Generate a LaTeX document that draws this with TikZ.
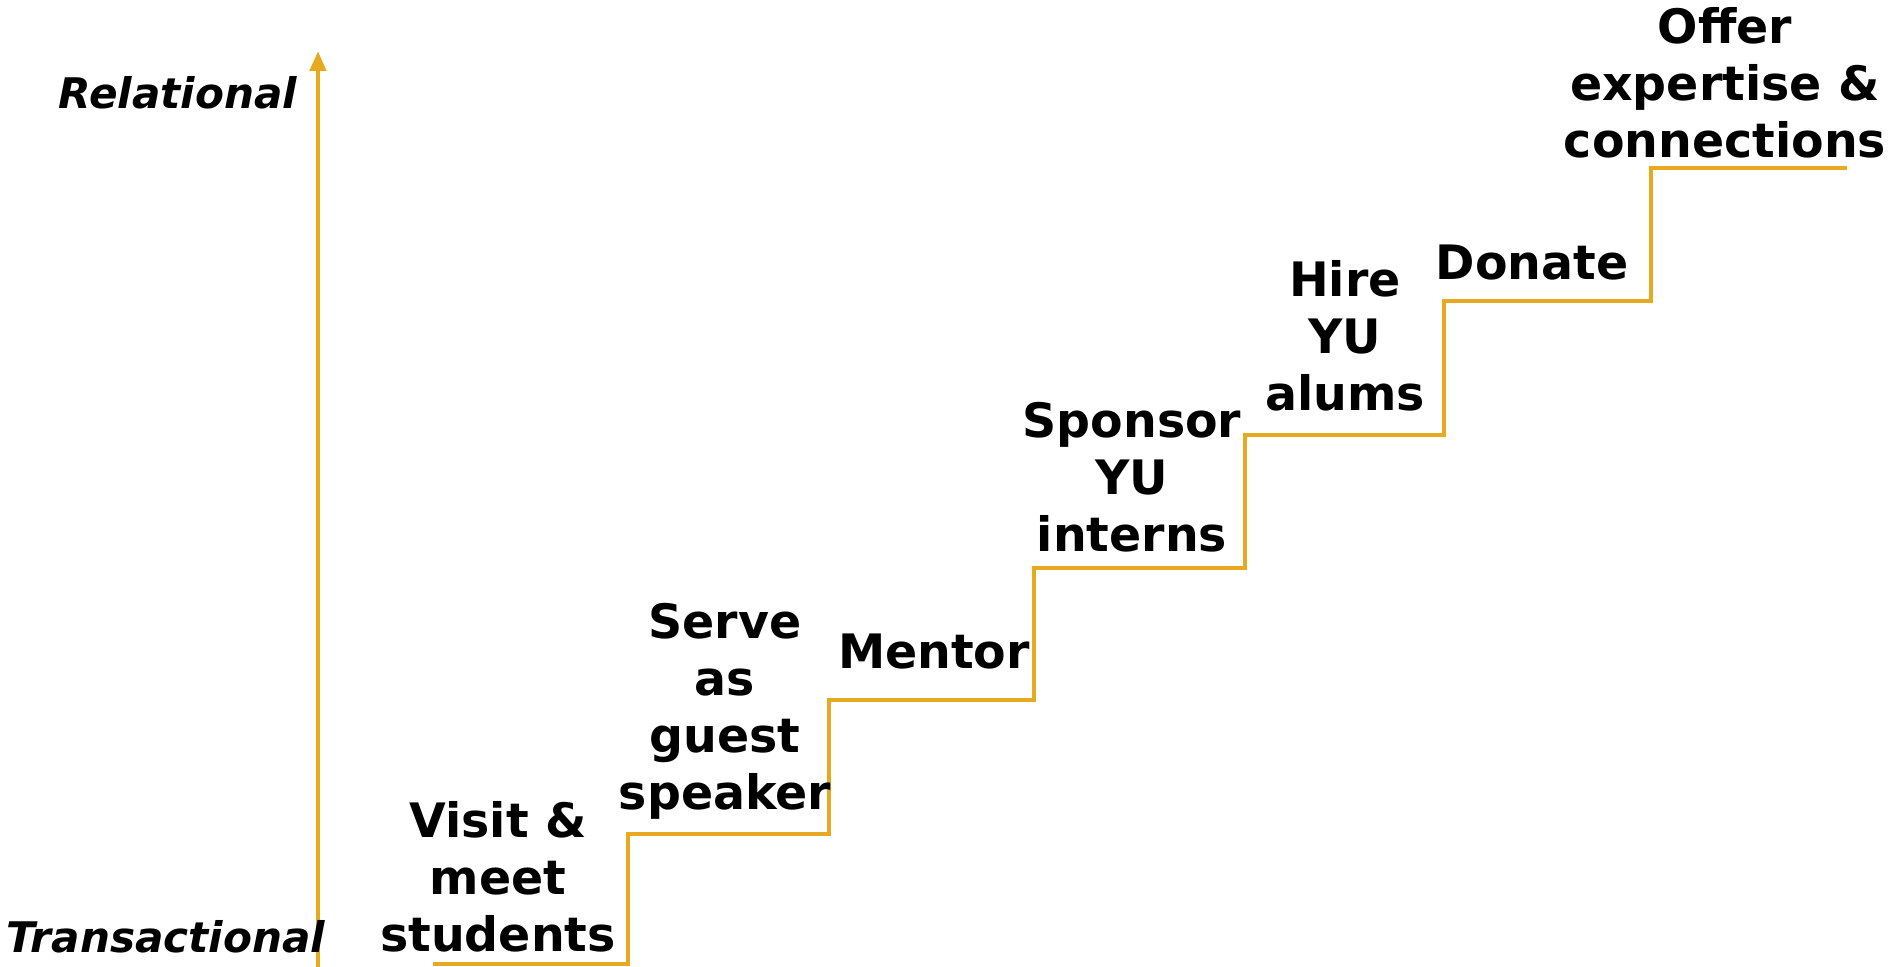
\documentclass[tikz,border=0pt]{standalone}
\usepackage{fontspec}
\setmainfont{DejaVu Sans}
\definecolor{stairgold}{RGB}{230, 169, 31}
\usetikzlibrary{arrows.meta, positioning}

\begin{document}
\begin{tikzpicture}[
    stairtext/.style={font=\bfseries\fontsize{13.5}{16.2}\selectfont, align=center, inner sep=0pt},
    axistext/.style={font=\bfseries\itshape\fontsize{12}{14}\selectfont, inner sep=0pt},
    stairline/.style={stairgold, line width=0.45mm}
]
    \useasboundingbox (0, 0) rectangle (18.95, 9.67);

    % Axis
    \coordinate (axisbot) at (3.18, 0);
    \coordinate (axistop) at (3.18, 9.16);
    \draw[stairline, -{Triangle[width=1.6mm, length=2mm]}] (axisbot) -- (axistop);
    \node[axistext] (relational) at (1.78, 8.74) {Relational};
    \node[axistext] (transactional) at (1.66, 0.30) {Transactional};

    % Staircase
    \draw[stairline, line join=miter]
        (4.33, 0.03) -- (6.28, 0.03) -- (6.28, 1.33)
        -- (8.29, 1.33) -- (8.29, 2.67)
        -- (10.34, 2.67) -- (10.34, 3.99)
        -- (12.45, 3.99) -- (12.45, 5.32)
        -- (14.44, 5.32) -- (14.44, 6.66)
        -- (16.51, 6.66) -- (16.51, 7.99)
        -- (18.47, 7.99);

    % Step labels
    \node[stairtext] (visit) at (4.98, 0.90) {Visit \&\\meet\\students};
    \node[stairtext] (serve) at (7.25, 2.56) {Serve\\as\\guest\\speaker};
    \node[stairtext] (mentor) at (9.34, 3.15) {Mentor};
    \node[stairtext] (sponsor) at (11.32, 4.90) {Sponsor\\YU\\interns};
    \node[stairtext] (hire) at (13.45, 6.31) {Hire\\YU\\alums};
    \node[stairtext] (donate) at (15.32, 7.04) {Donate};
    \node[stairtext] (offer) at (17.25, 8.84) {Offer\\expertise \&\\connections};
\end{tikzpicture}
\end{document}
